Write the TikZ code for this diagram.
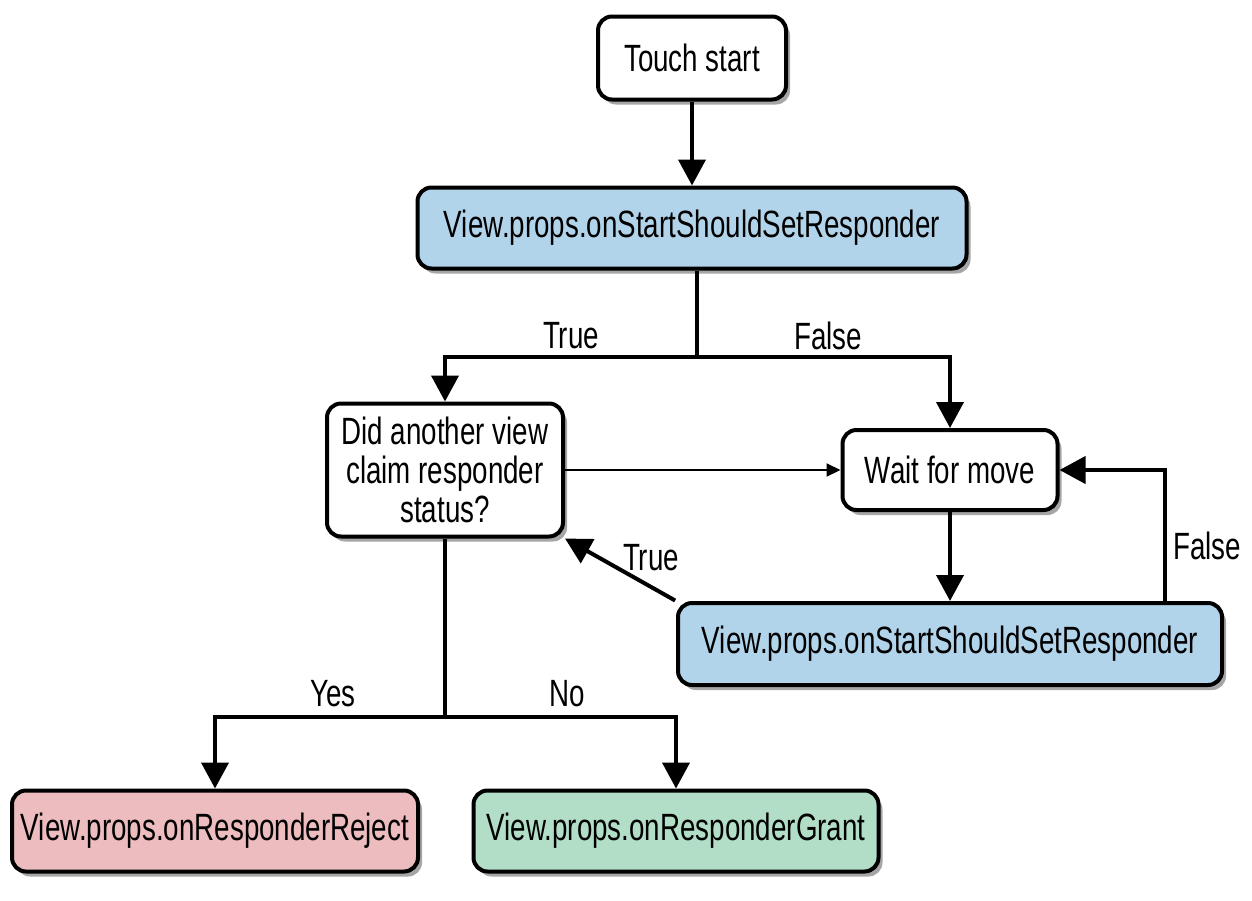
\documentclass[tikz,border=0pt]{standalone}
\usepackage{fontspec}
\setmainfont[FakeStretch=0.73]{Liberation Sans}
\usetikzlibrary{arrows.meta,shadows,calc}
\definecolor{boxblue}{RGB}{178,212,235}
\definecolor{boxred}{RGB}{236,188,191}
\definecolor{boxgreen}{RGB}{178,222,200}
\begin{document}
\begin{tikzpicture}[x=1pt,y=-1pt,
  every node/.style={font=\fontsize{38}{39}\selectfont},
  box/.style={draw=black,line width=4pt,rounded corners=14pt,fill=white,
    inner sep=0pt,align=center,
    drop shadow={shadow xshift=4pt,shadow yshift=-5pt,fill=black,opacity=0.35}},
  conn/.style={line width=4pt,-{Triangle[length=26pt,width=27pt]}},
  plain/.style={line width=4pt},
  thin/.style={line width=2pt,-{Triangle[length=14pt,width=13pt]}},
  lbl/.style={inner sep=0pt}]
\useasboundingbox (0,0) rectangle (1252,900);
\node[box,minimum width=188pt,minimum height=83pt] (ts) at (692,58) {Touch start};
\node[box,fill=boxblue,minimum width=549pt,minimum height=81pt] (b1) at (692,228) {View.props.onStartShouldSetResponder};
\node[box,minimum width=236pt,minimum height=133pt] (did) at (445,470) {Did another view\\claim responder\\status?};
\node[box,minimum width=215pt,minimum height=80pt] (wait) at (950,470) {Wait for move};
\node[box,fill=boxblue,minimum width=544pt,minimum height=82pt] (b2) at (950,644) {View.props.onStartShouldSetResponder};
\node[box,fill=boxred,minimum width=406pt,minimum height=81pt] (rej) at (215,831) {View.props.onResponderReject};
\node[box,fill=boxgreen,minimum width=405pt,minimum height=81pt] (gr) at (676,831) {View.props.onResponderGrant};
\coordinate (j1) at (697,357);
\coordinate (j2) at (445,717);
\coordinate (fl) at (1165,644);
% connectors
\draw[conn] (ts) -- (b1);
\draw[plain] (j1 |- b1.south) -- (j1);
\draw[conn] (j1) -| (did.north);
\draw[conn] (j1) -| (wait.north);
\draw[thin] (did.east) -- (wait.west);
\draw[conn] (wait) -- (b2);
\draw[conn] (fl |- b2.north) |- (wait.east);
\draw[conn,shorten <=1pt] (b2.north west) -- (did.south east);
\draw[plain] (did.south) -- (j2);
\draw[conn] (j2) -| (rej.north);
\draw[conn] (j2) -| (gr.north);
% labels
\node[lbl] (lt1) at (571,336) {True};
\node[lbl] (lf1) at (828,336) {False};
\node[lbl] (lt2) at (651,558) {True};
\node[lbl] (lf2) at (1207,546) {False};
\node[lbl] (ly) at (333,694) {Yes};
\node[lbl] (ln) at (567,694) {No};
\end{tikzpicture}
\end{document}
